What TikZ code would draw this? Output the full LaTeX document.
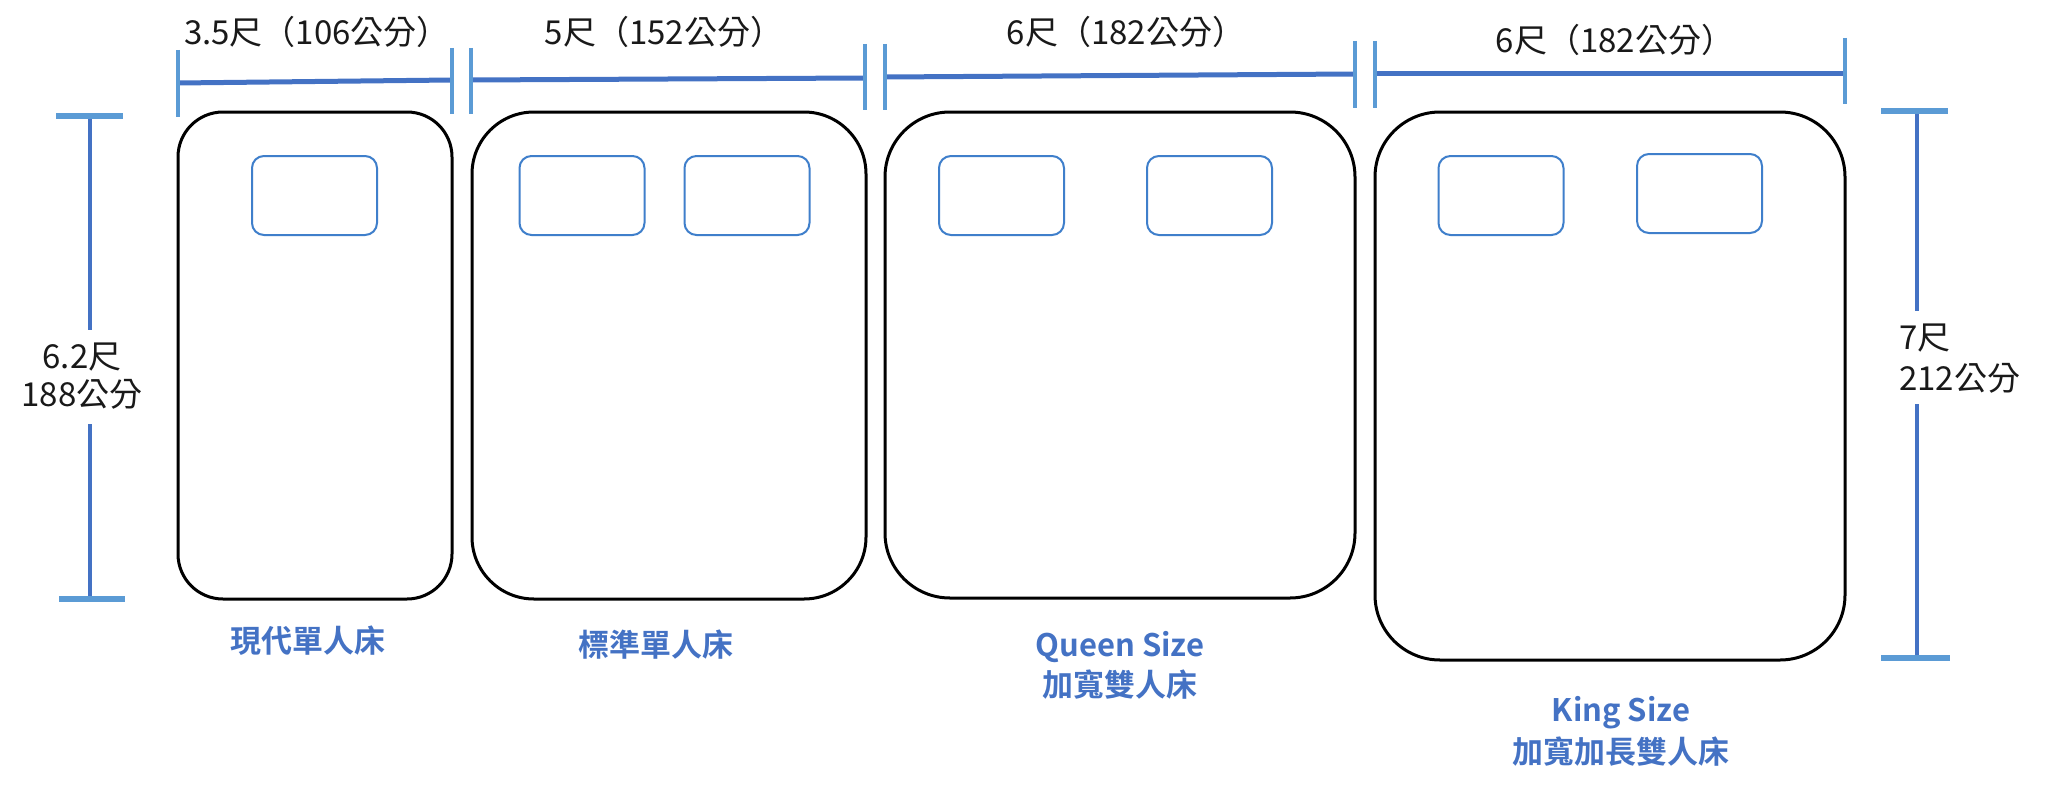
\documentclass[tikz,border=0pt]{standalone}
\usepackage{fontspec}
\setmainfont{Noto Sans CJK TC}[BoldFont={Noto Sans CJK TC Bold}]
\definecolor{dimdark}{HTML}{4472C4}
\definecolor{dimlight}{HTML}{5B9BD5}
\definecolor{pillowc}{HTML}{3F7FCB}
\definecolor{labelc}{HTML}{4472C4}
\tikzset{
  bed/.style={draw=black, line width=3pt, fill=white, inner sep=0pt},
  pillow/.style={draw=pillowc, line width=2pt, rounded corners=12pt, inner sep=0pt, minimum width=125pt, minimum height=79pt},
  dimline/.style={draw=dimdark, line width=5pt},
  dimtick/.style={draw=dimlight, line width=4pt},
  dimcap/.style={draw=dimlight, line width=6pt},
  dimtext/.style={font=\fontsize{33}{38}\selectfont, text=black!90, inner sep=0pt},
  bedlabel/.style={font=\bfseries\fontsize{31}{38}\selectfont, text=labelc, align=center, inner sep=0pt}
}
\begin{document}
\begin{tikzpicture}[x=1pt,y=-1pt]
\useasboundingbox (0,0) rectangle (2048,792);
% beds
\node[bed, minimum width=274pt, minimum height=487pt, rounded corners=45pt] (b1) at (315,355.5) {};
\node[bed, minimum width=394pt, minimum height=487pt, rounded corners=62pt] (b2) at (669,355.5) {};
\node[bed, minimum width=470pt, minimum height=486pt, rounded corners=65pt] (b3) at (1120,355) {};
\node[bed, minimum width=470pt, minimum height=548pt, rounded corners=65pt] (b4) at (1610,386) {};
% pillows
\node[pillow] (p1) at (314.5,195.5) {};
\node[pillow] (p2a) at (582,195.5) {};
\node[pillow] (p2b) at (747,195.5) {};
\node[pillow] (p3a) at (1001.5,195.5) {};
\node[pillow] (p3b) at (1209.5,195.5) {};
\node[pillow] (p4a) at (1501,195.5) {};
\node[pillow] (p4b) at (1699.5,193.5) {};
% top dimension coordinates
\coordinate (d1l) at (178,83);  \coordinate (d1r) at (452,80);
\coordinate (d2l) at (471,80);  \coordinate (d2r) at (865,78);
\coordinate (d3l) at (885,77);  \coordinate (d3r) at (1355,74);
\coordinate (d4l) at (1375,74); \coordinate (d4r) at (1845,74);
\draw[dimline] (d1l) -- (d1r);
\draw[dimline] (d2l) -- (d2r);
\draw[dimline] (d3l) -- (d3r);
\draw[dimline] (d4l) -- (d4r);
\coordinate (t1a) at (178,50);  \coordinate (t1b) at (178,117);
\coordinate (t2a) at (452,48);  \coordinate (t2b) at (452,114);
\coordinate (t3a) at (471,48);  \coordinate (t3b) at (471,114);
\coordinate (t4a) at (865,44);  \coordinate (t4b) at (865,110);
\coordinate (t5a) at (885,44);  \coordinate (t5b) at (885,110);
\coordinate (t6a) at (1355,41); \coordinate (t6b) at (1355,108);
\coordinate (t7a) at (1375,41); \coordinate (t7b) at (1375,108);
\coordinate (t8a) at (1845,38); \coordinate (t8b) at (1845,104);
\foreach \i in {1,...,8} { \draw[dimtick] (t\i a) -- (t\i b); }
\node[dimtext] (w1) at (317,32) {3.5尺（106公分）};
\node[dimtext] (w2) at (664,32) {5尺（152公分）};
\node[dimtext] (w3) at (1126,32) {6尺（182公分）};
\node[dimtext] (w4) at (1615,40) {6尺（182公分）};
% left vertical dimension
\coordinate (lv1) at (90,116); \coordinate (lv2) at (90,330);
\coordinate (lv3) at (90,424); \coordinate (lv4) at (90,599);
\coordinate (lc1a) at (56,116); \coordinate (lc1b) at (123,116);
\coordinate (lc2a) at (59,599); \coordinate (lc2b) at (125,599);
\draw[dimline, line width=4pt] (lv1) -- (lv2);
\draw[dimline, line width=4pt] (lv3) -- (lv4);
\draw[dimcap] (lc1a) -- (lc1b);
\draw[dimcap] (lc2a) -- (lc2b);
\node[dimtext] (h1a) at (82,357) {6.2尺};
\node[dimtext] (h1b) at (82,394) {188公分};
% right vertical dimension
\coordinate (rv1) at (1917,111); \coordinate (rv2) at (1917,311);
\coordinate (rv3) at (1917,404); \coordinate (rv4) at (1917,658);
\coordinate (rc1a) at (1881,111); \coordinate (rc1b) at (1948,111);
\coordinate (rc2a) at (1881,658); \coordinate (rc2b) at (1950,658);
\draw[dimline, line width=4pt] (rv1) -- (rv2);
\draw[dimline, line width=4pt] (rv3) -- (rv4);
\draw[dimcap] (rc1a) -- (rc1b);
\draw[dimcap] (rc2a) -- (rc2b);
\node[dimtext, anchor=west] (h2a) at (1899,338) {7尺};
\node[dimtext, anchor=west] (h2b) at (1899,378) {212公分};
% labels
\node[bedlabel] (l1) at (308,641) {現代單人床};
\node[bedlabel] (l2) at (656,645) {標準單人床};
\node[bedlabel] (l3a) at (1120,647) {Queen Size};
\node[bedlabel] (l3b) at (1120,685) {加寬雙人床};
\node[bedlabel] (l4a) at (1621,713) {King Size};
\node[bedlabel] (l4b) at (1621,752) {加寬加長雙人床};
\end{tikzpicture}
\end{document}
